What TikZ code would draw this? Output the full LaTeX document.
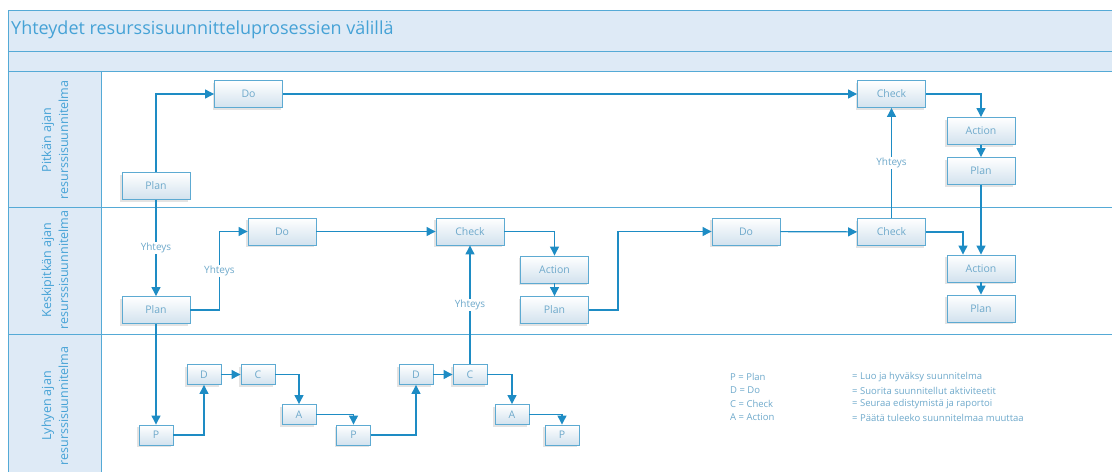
\documentclass[tikz,border=0pt]{standalone}
\usepackage{fontspec}
\setmainfont{Open Sans}
\usetikzlibrary{arrows.meta,shadows,calc}
\definecolor{lanefill}{HTML}{DEEAF6}
\definecolor{laneline}{HTML}{55AAD6}
\definecolor{flowcol}{HTML}{1E8CC4}
\definecolor{titletxt}{HTML}{45A2D6}
\definecolor{boxtxt}{HTML}{6EA9CB}
\definecolor{boxshade}{HTML}{D2E2EE}
\definecolor{boxline}{HTML}{5DAAD2}
\tikzset{
  box/.style={draw=boxline, line width=0.9pt, top color=white, bottom color=boxshade,
    minimum width=68pt, minimum height=27pt, inner sep=0pt, text=boxtxt,
    font=\fontsize{10.5}{12}\selectfont,
    drop shadow={shadow xshift=-2pt, shadow yshift=-2pt, opacity=0.18, fill=black!60}},
  sbox/.style={box, minimum width=34pt, minimum height=20pt},
  flow/.style={draw=flowcol, line width=1.2pt, -{Triangle[length=9pt,width=9pt]}},
  lbl/.style={fill=white, text=boxtxt, inner sep=1pt, font=\fontsize{10}{12}\selectfont},
  lanelbl/.style={rotate=90, align=center, text=titletxt, font=\fontsize{12.5}{17}\selectfont},
  legend/.style={anchor=west, text=boxtxt, inner sep=0pt, font=\fontsize{9.5}{11}\selectfont}
}
\begin{document}
\begin{tikzpicture}[x=1pt,y=-1pt]
\useasboundingbox (0,0) rectangle (1112,472);
% header bands and lane label column
\fill[lanefill] (8,10) rectangle (1112,71);
\fill[lanefill] (8,71) rectangle (101,472);
\draw[laneline, line width=1pt] (1112,10) -- (8,10) -- (8,472);
\draw[laneline, line width=1pt] (8,51) -- (1112,51);
\draw[laneline, line width=1pt] (8,71) -- (1112,71);
\draw[laneline, line width=1pt] (8,207) -- (1112,207);
\draw[laneline, line width=1pt] (8,334) -- (1112,334);
\draw[laneline, line width=1pt] (101,71) -- (101,472);
\node[anchor=west, text=titletxt, inner sep=0pt, font=\fontsize{18}{21}\selectfont] (title) at (11,30) {Yhteydet resurssisuunnitteluprosessien välillä};
\node[lanelbl] (lane1) at (55,140) {Pitkän ajan\\resurssisuunnitelma};
\node[lanelbl] (lane2) at (55,270) {Keskipitkän ajan\\resurssisuunnitelma};
\node[lanelbl] (lane3) at (55,406) {Lyhyen ajan\\resurssisuunnitelma};

% long-term lane
\node[box] (lplan) at (156,186) {Plan};
\node[box] (ldo) at (248.5,94) {Do};
\node[box] (lcheck) at (891.5,94) {Check};
\node[box] (laction) at (981,131) {Action};
\node[box] (lplan2) at (981,171) {Plan};

% medium-term lane
\node[box] (mplan) at (156,310) {Plan};
\node[box] (mdo) at (282,231.5) {Do};
\node[box] (mcheck) at (470,231.5) {Check};
\node[box] (maction) at (554.5,269.5) {Action};
\node[box] (mplan2) at (554.5,310) {Plan};
\node[box] (mdo2) at (746,231.5) {Do};
\node[box] (mcheck2) at (891.5,232) {Check};
\node[box] (maction2) at (981,268.5) {Action};
\node[box] (mplan3) at (981,308.5) {Plan};

% short-term lane
\node[sbox] (sp1) at (156,435) {P};
\node[sbox] (sd1) at (204,374.5) {D};
\node[sbox] (sc1) at (258,374.5) {C};
\node[sbox] (sa1) at (299,414.5) {A};
\node[sbox] (sp2) at (353.5,435) {P};
\node[sbox] (sd2) at (416,374.5) {D};
\node[sbox] (sc2) at (470,374.5) {C};
\node[sbox] (sa2) at (512,414.5) {A};
\node[sbox] (sp3) at (562,435) {P};

% connectors
\draw[flow] (lplan.north) |- (ldo.west);
\draw[flow] (ldo) -- (lcheck);
\draw[flow] (lcheck.east) -| (laction.north);
\draw[flow] (laction) -- (lplan2);
\draw[flow] (lplan2.south) -- (maction2.north);
\draw[flow] (lplan.south) -- node[lbl] {Yhteys} (mplan.north);
\draw[flow] (mplan.east) -- ++(29,0) |- node[lbl, pos=0.25] {Yhteys} (mdo.west);
\draw[flow] (mdo) -- (mcheck);
\draw[flow] (mcheck.east) -| (maction.north);
\draw[flow] (maction) -- (mplan2);
\draw[flow] (mplan2.east) -- ++(29,0) |- (mdo2.west);
\draw[flow] (mdo2) -- (mcheck2);
\draw[flow] (mcheck2.east) -| ([xshift=-18pt]maction2.north);
\draw[flow] (mcheck2.north) -- node[lbl] {Yhteys} (lcheck.south);
\draw[flow] (maction2) -- (mplan3);
\draw[flow] (mplan.south) -- (sp1.north);
\draw[flow] (sp1.east) -| (sd1.south);
\draw[flow] (sd1) -- (sc1);
\draw[flow] (sc1.east) -| (sa1.north);
\draw[flow] (sa1.east) -| (sp2.north);
\draw[flow] (sp2.east) -| (sd2.south);
\draw[flow] (sd2) -- (sc2);
\draw[flow] (sc2.north) -- node[lbl] {Yhteys} (mcheck.south);
\draw[flow] (sc2.east) -| (sa2.north);
\draw[flow] (sa2.east) -| (sp3.north);

% legend
\node[legend] (k1) at (730,377) {P = Plan};
\node[legend] (k2) at (730,390.5) {D = Do};
\node[legend] (k3) at (730,404) {C = Check};
\node[legend] (k4) at (730,417.5) {A = Action};
\node[legend] (v1) at (852,377) {= Luo ja hyväksy suunnitelma};
\node[legend] (v2) at (852,390.5) {= Suorita suunnitellut aktiviteetit};
\node[legend] (v3) at (852,404) {= Seuraa edistymistä ja raportoi};
\node[legend] (v4) at (852,417.5) {= Päätä tuleeko suunnitelmaa muuttaa};
\end{tikzpicture}
\end{document}
